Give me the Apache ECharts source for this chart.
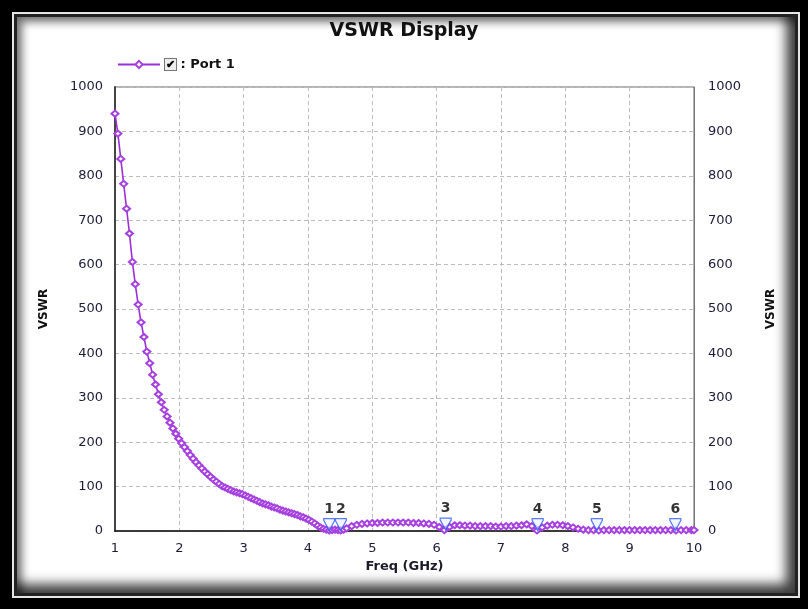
<!DOCTYPE html>
<html>
<head>
<meta charset="utf-8">
<title>VSWR Display</title>
<script src="https://cdn.jsdelivr.net/npm/echarts@6/dist/echarts.min.js"></script>
<style>
	html, body { margin: 0; padding: 0; background: #000; }
	.wrap { position: relative; width: 808px; height: 609px; overflow: hidden; background: #000; }
	.frame {
		position: absolute; left: 12px; top: 12px; width: 784px; height: 582px;
		border: 2px solid #e6e6e6; background: #222;
	}
	.panel {
		position: absolute; left: 3px; top: 3px; right: 3px; bottom: 3px;
		background: #fff;
		box-shadow: inset 5px 5px 9px rgba(0, 0, 0, 0.55), inset -9px -9px 12px rgba(0, 0, 0, 0.75);
	}
	#chart { position: absolute; left: 0; top: 0; width: 808px; height: 609px; }
</style>
</head>
<body>
<div class="wrap">
	<div class="frame"><div class="panel"></div></div>
	<div id="chart"></div>
</div>
<script>
	// sweep points (GHz) and VSWR of port 1
	var freqGHz = [
		1.000, 1.045, 1.090, 1.135, 1.180, 1.225, 1.270, 1.315, 1.360, 1.405,
		1.450, 1.495, 1.540, 1.585, 1.630, 1.675, 1.720, 1.765, 1.810, 1.855,
		1.900, 1.945, 1.990, 2.035, 2.080, 2.125, 2.170, 2.215, 2.260, 2.305,
		2.350, 2.395, 2.440, 2.485, 2.530, 2.575, 2.620, 2.665, 2.710, 2.755,
		2.800, 2.845, 2.890, 2.935, 2.980, 3.025, 3.070, 3.115, 3.160, 3.205,
		3.250, 3.295, 3.340, 3.385, 3.430, 3.475, 3.520, 3.565, 3.610, 3.655,
		3.700, 3.745, 3.790, 3.835, 3.880, 3.925, 3.970, 4.015, 4.060, 4.105,
		4.150, 4.195, 4.240, 4.285, 4.330, 4.375, 4.420, 4.465, 4.510, 4.555,
		4.600,
		4.68, 4.76, 4.84, 4.92, 5.00, 5.08, 5.16, 5.24, 5.32, 5.40,
		5.48, 5.56, 5.64, 5.72, 5.80, 5.88, 5.96, 6.04, 6.12, 6.20,
		6.28, 6.36, 6.44, 6.52, 6.60, 6.68, 6.76, 6.84, 6.92, 7.00,
		7.08, 7.16, 7.24, 7.32, 7.40, 7.48, 7.56, 7.64, 7.72, 7.80,
		7.88, 7.96, 8.04, 8.12, 8.20, 8.28, 8.36, 8.44, 8.52, 8.60,
		8.68, 8.76, 8.84, 8.92, 9.00, 9.08, 9.16, 9.24, 9.32, 9.40,
		9.48, 9.56, 9.64, 9.72, 9.80, 9.88, 9.96, 10.00
	];
	var vswrPort1 = [
		940, 895, 838, 782, 726, 670, 606, 556, 510, 470,
		437, 404, 378, 352, 330, 308, 290, 273, 258, 244,
		231, 219, 208, 198, 189, 180, 171, 163, 155, 148,
		141, 134, 128, 122, 116, 111, 106, 101, 98, 95,
		92, 89, 87, 85, 83, 80, 77, 74, 71, 68,
		65, 62, 60, 58, 55, 53, 51, 48, 46, 44,
		42, 40, 38, 36, 33, 31, 28, 25, 21, 17,
		12, 8, 5, 3, 1, 2, 3, 2, 1, 3,
		6,
		11, 14, 16, 17, 18, 18, 19, 19, 19, 19,
		19, 19, 18, 18, 17, 16, 14, 9, 2, 9,
		13, 13, 12, 12, 11, 11, 11, 11, 10, 10,
		11, 11, 12, 13, 15, 11, 1, 8, 12, 14,
		14, 13, 11, 8, 5, 3, 2, 2, 1, 2,
		2, 2, 2, 2, 2, 2, 2, 2, 2, 2,
		2, 2, 2, 1, 2, 2, 2, 2
	];

	// marker triangles
	var markerNames = ["1", "2", "3", "4", "5", "6"];
	var markerFreq = [4.33, 4.51, 6.14, 7.57, 8.49, 9.71];
	var markerVswr = [1, 1, 2, 1, 1, 1];

	var tickFont = "DejaVu Sans";
	var lineData = freqGHz.map(function(f, i) { return [f, vswrPort1[i]]; });
	var markerData = markerNames.map(function(n, i) {
		return { name: n, value: [markerFreq[i], markerVswr[i]] };
	});
	var plainNum = function(v) { return String(v); };

	var chart = echarts.init(document.getElementById("chart"), null, { renderer: "canvas" });
	chart.setOption({
		backgroundColor: "transparent",
		animation: false,
		title: {
			text: "VSWR Display",
			left: "center",
			top: 17,
			textStyle: { fontFamily: tickFont, fontWeight: "bold", fontSize: 19, color: "#111" }
		},
		legend: {
			left: 112,
			top: 53,
			itemWidth: 42,
			itemHeight: 9,
			itemGap: 4,
			data: ["Port 1"],
			formatter: function() { return "{box|✔}{t| : Port 1}"; },
			textStyle: {
				rich: {
					box: {
						width: 11, height: 11, align: "center", lineHeight: 12,
						borderColor: "#777", borderWidth: 1, backgroundColor: "#eee",
						fontSize: 11, fontWeight: "bold", color: "#000"
					},
					t: { fontFamily: tickFont, fontWeight: "bold", fontSize: 13, color: "#111" }
				}
			}
		},
		grid: {
			left: 115,
			top: 87,
			width: 579,
			height: 444,
			show: true,
			borderColor: "#666",
			borderWidth: 1
		},
		xAxis: {
			type: "value",
			min: 1,
			max: 10,
			interval: 1,
			name: "Freq (GHz)",
			nameLocation: "middle",
			nameGap: 28,
			nameTextStyle: { fontFamily: tickFont, fontWeight: "bold", fontSize: 13, color: "#1a1a2a" },
			axisLine: { show: true, lineStyle: { color: "#111", width: 1.5 } },
			axisTick: { show: false },
			axisLabel: { margin: 11, fontFamily: tickFont, fontSize: 13, color: "#1b1b3a", formatter: plainNum },
			splitLine: { show: true, lineStyle: { color: "#bdbdbd", type: [4, 3], width: 1 } }
		},
		yAxis: [
			{
				type: "value",
				position: "left",
				min: 0,
				max: 1000,
				interval: 100,
				name: "VSWR",
				nameLocation: "middle",
				nameRotate: 90,
				nameGap: 65,
				nameTextStyle: { fontFamily: tickFont, fontWeight: "bold", fontSize: 12, color: "#111" },
				axisLine: { show: true, lineStyle: { color: "#444", width: 2 } },
				axisTick: { show: false },
				axisLabel: { margin: 12, fontFamily: tickFont, fontSize: 13, color: "#1b1b3a", formatter: plainNum },
				splitLine: { show: true, lineStyle: { color: "#bdbdbd", type: [4, 3], width: 1 } }
			},
			{
				type: "value",
				position: "right",
				min: 0,
				max: 1000,
				interval: 100,
				name: "VSWR",
				nameLocation: "middle",
				nameRotate: 90,
				nameGap: 71,
				nameTextStyle: { fontFamily: tickFont, fontWeight: "bold", fontSize: 12, color: "#111" },
				axisLine: { show: true, lineStyle: { color: "#777", width: 1 } },
				axisTick: { show: false },
				axisLabel: { margin: 14, fontFamily: tickFont, fontSize: 13, color: "#1b1b3a", formatter: plainNum },
				splitLine: { show: false }
			}
		],
		series: [
			{
				name: "Port 1",
				type: "line",
				data: lineData,
				symbol: "emptyDiamond",
				symbolSize: [7, 6],
				showAllSymbol: true,
				lineStyle: { color: "#9b2fd8", width: 1.6 },
				itemStyle: { color: "#a640e0", borderWidth: 1.2 },
				z: 3
			},
			{
				name: "markers",
				type: "scatter",
				data: markerData,
				symbol: "path://M0,0 L12,0 L12,2 L6,13 L0,2 Z",
				symbolSize: [11, 12],
				symbolOffset: [0, "-50%"],
				itemStyle: { color: "rgba(235,238,255,0.6)", borderColor: "#2f5bff", borderWidth: 1.3 },
				label: {
					show: true,
					position: "top",
					distance: 2,
					formatter: "{b}",
					fontFamily: tickFont,
					fontWeight: "bold",
					fontSize: 14,
					color: "#000"
				},
				z: 5
			}
		]
	});
</script>
</body>
</html>
